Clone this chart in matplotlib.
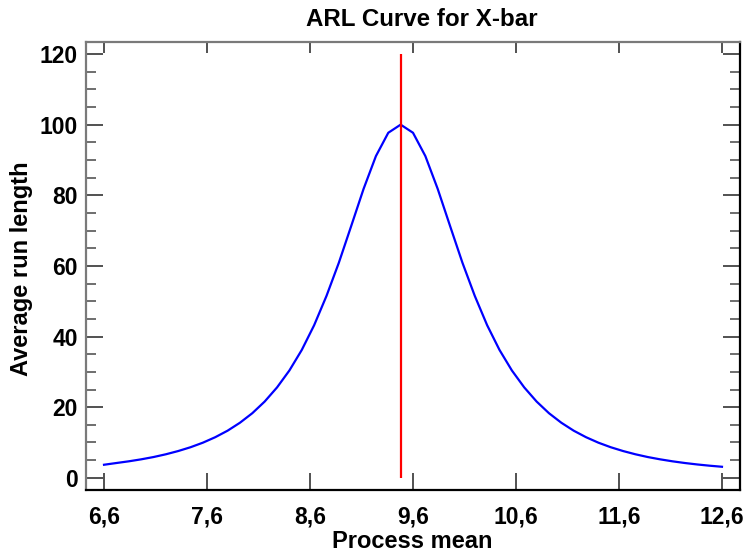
import matplotlib
matplotlib.use("Agg")
import matplotlib.pyplot as plt
from matplotlib.ticker import MultipleLocator, FuncFormatter

# ---- data ----
process_mean = [6.60, 6.72, 6.84, 6.96, 7.08, 7.20, 7.32, 7.44, 7.56, 7.68,
                7.80, 7.92, 8.04, 8.16, 8.28, 8.40, 8.52, 8.64, 8.76, 8.88,
                9.00, 9.12, 9.24, 9.36, 9.48, 9.60, 9.72, 9.84, 9.96, 10.08,
                10.20, 10.32, 10.44, 10.56, 10.68, 10.80, 10.92, 11.04, 11.16, 11.28,
                11.40, 11.52, 11.64, 11.76, 11.88, 12.00, 12.12, 12.24, 12.36, 12.48,
                12.60]
arl = [3.7, 4.19, 4.67, 5.23, 5.88, 6.66, 7.58, 8.66, 9.95, 11.5,
       13.35, 15.6, 18.3, 21.6, 25.6, 30.4, 36.2, 43.2, 51.5, 60.9,
       71.3, 81.8, 91.1, 97.7, 100.0, 97.7, 91.1, 81.8, 71.3, 60.9,
       51.5, 43.2, 36.2, 30.4, 25.6, 21.6, 18.3, 15.6, 13.35, 11.5,
       9.95, 8.66, 7.58, 6.66, 5.88, 5.23, 4.67, 4.19, 3.78, 3.43,
       3.13]
center_line = 9.48
center_line_range = [0, 120]
x_ticks = [6.6, 7.6, 8.6, 9.6, 10.6, 11.6, 12.6]
y_ticks = [0, 20, 40, 60, 80, 100, 120]

title = "ARL Curve for X-bar"
xlabel = "Process mean"
ylabel = "Average run length"

plt.rcParams['font.family'] = ['Liberation Sans', 'DejaVu Sans']
plt.rcParams['font.weight'] = 'bold'

fig = plt.figure(figsize=(7.47, 5.55), dpi=100)
ax = fig.add_axes([86/747, 1-490/555, (740-86)/747, (490-42)/555])

ax.plot(process_mean, arl, color='#0000ff', lw=1.6)
ax.vlines(center_line, center_line_range[0], center_line_range[1], color='#ff0000', lw=1.6)

ax.set_xlim(6.425, 12.775)
ax.set_ylim(-3.45, 123.4)
ax.set_xticks(x_ticks)
ax.set_yticks(y_ticks)
ax.yaxis.set_minor_locator(MultipleLocator(5))
ax.xaxis.set_major_formatter(FuncFormatter(lambda v, p: f"{v:.1f}".replace('.', ',')))

ax.tick_params(axis='both', which='major', direction='in', labelsize=16.5,
               top=True, right=True, length=12, width=1.2, color='#333333')
ax.tick_params(axis='y', which='minor', direction='in', left=True, right=True,
               length=7, width=1.2, color='#555555')
ax.tick_params(axis='x', pad=11)
ax.tick_params(axis='y', pad=6)
for t in ax.xaxis.get_major_ticks():
    t.tick2line.set_markersize(8)
for lab in ax.get_xticklabels() + ax.get_yticklabels():
    lab.set_fontweight('bold')

for s in ['top', 'left']:
    ax.spines[s].set_color('#7a7a7a')
    ax.spines[s].set_linewidth(1.6)
for s in ['bottom', 'right']:
    ax.spines[s].set_color('#000000')
    ax.spines[s].set_linewidth(1.6)

fig.text(421.5/747, 1-20/555, title, ha='center', va='center', fontsize=17.4, fontweight='bold')
fig.text(412.5/747, 1-541/555, xlabel, ha='center', va='center', fontsize=17, fontweight='bold')
fig.text(22/747, 1-269/555, ylabel, ha='center', va='center', rotation=90, fontsize=17, fontweight='bold')

fig.savefig("out.png", dpi=100)
